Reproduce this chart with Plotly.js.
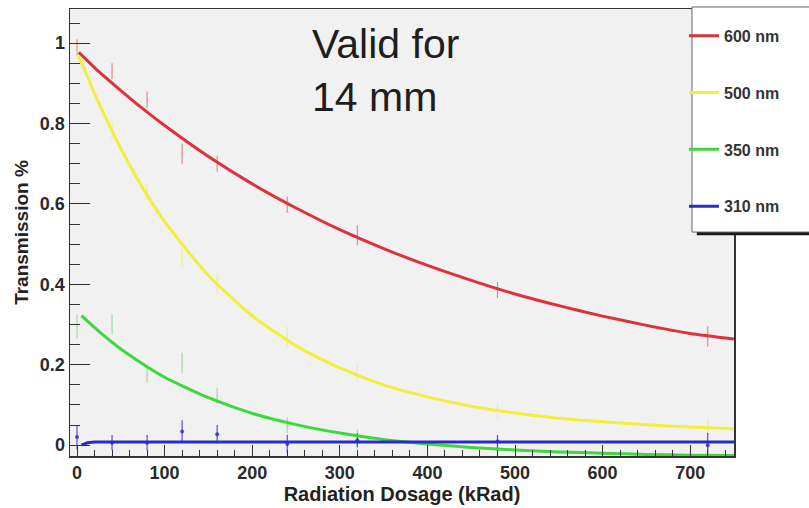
<!DOCTYPE html>
<html>
<head>
<meta charset="utf-8">
<script src="https://cdn.plot.ly/plotly-3.0.1.min.js"></script>
<style>html,body{margin:0;padding:0;background:#fff;}#chart{width:809px;height:508px;}</style>
</head>
<body>
<div id="chart"></div>
<script>
// Measured points (kRad) with error bars
const dose = [0, 40, 80, 120, 160, 240, 320, 480, 720];
const red600 = [0.99, 0.93, 0.86, 0.725, 0.70, 0.598, 0.522, 0.386, 0.27];
const red600Err = [0.02, 0.02, 0.02, 0.025, 0.02, 0.02, 0.025, 0.02, 0.025];
const yellow500 = [0.98, 0.78, 0.63, 0.47, 0.40, 0.27, 0.18, 0.085, 0.045];
const yellow500Err = [0.02, 0.02, 0.02, 0.025, 0.025, 0.025, 0.025, 0.02, 0.02];
const green350 = [0.295, 0.30, 0.175, 0.205, 0.123, 0.05, 0.02, -0.008, -0.02];
const green350Err = [0.03, 0.025, 0.02, 0.025, 0.02, 0.02, 0.02, 0.02, 0.02];
const blue310 = [0.02, 0.006, 0.006, 0.034, 0.027, 0.003, 0.012, 0.009, 0.0];
const blue310Err = [0.03, 0.019, 0.019, 0.028, 0.023, 0.023, 0.018, 0.016, 0.03];

// Fitted curves
const fitX = [2, 25, 50, 75, 100, 150, 200, 250, 300, 350, 400, 450, 500, 550, 600, 650, 700, 750];
const fit600 = [0.977, 0.929, 0.882, 0.837, 0.795, 0.718, 0.65, 0.59, 0.536, 0.489, 0.447, 0.41, 0.376, 0.347, 0.321, 0.298, 0.278, 0.264];
const fit500 = [0.968, 0.85, 0.738, 0.64, 0.556, 0.422, 0.322, 0.247, 0.192, 0.150, 0.120, 0.097, 0.080, 0.067, 0.058, 0.051, 0.045, 0.041];
const fit350X = [5, 25, 50, 75, 100, 150, 200, 250, 300, 350, 400, 450, 500, 550, 600, 650, 700, 750];
const fit350 = [0.322, 0.283, 0.239, 0.202, 0.169, 0.118, 0.079, 0.051, 0.030, 0.014, 0.003, -0.006, -0.012, -0.017, -0.020, -0.023, -0.025, -0.026];
const fit310X = [5, 12, 20, 750];
const fit310 = [0.0, 0.006, 0.008, 0.008];

const seriesNames = ["600 nm", "500 nm", "350 nm", "310 nm"];
const colors = ["#e0303a", "#f0f03a", "#3cd83c", "#2a2ac8"];
const errColors = ["rgba(224,48,58,0.55)", "rgba(235,235,90,0.6)", "rgba(60,200,60,0.45)", "rgba(42,42,200,0.8)"];

const pts = [red600, yellow500, green350, blue310];
const errs = [red600Err, yellow500Err, green350Err, blue310Err];
const fits = [[fitX, fit600, 'spline'], [fitX, fit500, 'spline'], [fit350X, fit350, 'spline'], [fit310X, fit310, 'linear']];

const traces = [];
for (let i = 0; i < 4; i++) {
  traces.push({
    x: dose, y: pts[i], type: 'scatter', mode: 'markers',
    marker: {size: i === 3 ? 4 : 1, color: errColors[i]},
    error_y: {type: 'data', array: errs[i], visible: true, color: errColors[i], thickness: 1.2, width: 0},
    showlegend: false, hoverinfo: 'skip'
  });
}
for (let i = 0; i < 4; i++) {
  traces.push({
    x: fits[i][0], y: fits[i][1], type: 'scatter', mode: 'lines',
    line: {color: colors[i], width: 3, shape: fits[i][2], smoothing: 0.6},
    name: seriesNames[i], legendgroup: 'g' + i
  });
}

const fam = 'Liberation Sans, Arial, sans-serif';

const layout = {
  width: 809, height: 508,
  margin: {l: 70, r: 75, t: 9, b: 52},
  paper_bgcolor: '#ffffff',
  plot_bgcolor: '#f1f1f1',
  font: {family: fam, size: 14, color: '#2a2a2a'},
  showlegend: true,
  legend: {
    x: 0.9247, xanchor: 'left', y: 0.978, yanchor: 'top',
    bgcolor: 'rgba(0,0,0,0)', borderwidth: 0,
    tracegroupgap: 33,
    font: {family: fam, size: 16, color: '#333', weight: 'bold'}
  },
  xaxis: {
    range: [-8, 750], dtick: 100, tick0: 0,
    ticks: 'inside', ticklen: 11, tickwidth: 1, tickcolor: '#333',
    minor: {dtick: 20, tick0: 0, ticks: 'inside', ticklen: 6, tickcolor: '#333'},
    showline: true, linecolor: '#333', linewidth: 1.5, mirror: true,
    showgrid: false, zeroline: false,
    tickfont: {family: fam, size: 18, color: '#2a2a2a', weight: 'bold'},
    title: {text: 'Radiation Dosage (kRad)', standoff: 2,
      font: {family: fam, size: 20, color: '#222', weight: 'bold'}}
  },
  yaxis: {
    range: [-0.027, 1.085], dtick: 0.2, tick0: 0,
    ticks: 'inside', ticklen: 20, tickwidth: 1, tickcolor: '#333',
    minor: {dtick: 0.05, tick0: 0, ticks: 'inside', ticklen: 10, tickcolor: '#333'},
    showline: true, linecolor: '#333', linewidth: 1.5, mirror: true,
    showgrid: false, zeroline: false,
    tickfont: {family: fam, size: 18, color: '#2a2a2a', weight: 'bold'},
    title: {text: 'Transmission %', standoff: 6,
      font: {family: fam, size: 19, color: '#222', weight: 'bold'}}
  },
  shapes: [
    {type: 'rect', xref: 'paper', yref: 'paper', x0: 0.944, x1: 1.3, y0: 0.494, y1: 0.995,
      fillcolor: '#1a1a1a', line: {width: 0}, layer: 'above'},
    {type: 'rect', xref: 'paper', yref: 'paper', x0: 0.9367, x1: 1.3, y0: 0.501, y1: 1.0045,
      fillcolor: '#ffffff', line: {color: '#666', width: 1}, layer: 'above'}
  ],
  annotations: [
    {text: 'Valid for<br>14 mm', xref: 'paper', yref: 'paper', x: 0.361, y: 0.978,
      xanchor: 'left', yanchor: 'top', align: 'left', showarrow: false,
      font: {family: fam, size: 41, color: '#1e1e1e'}}
  ]
};

Plotly.newPlot('chart', traces, layout, {displayModeBar: false, staticPlot: true});
</script>
</body>
</html>
